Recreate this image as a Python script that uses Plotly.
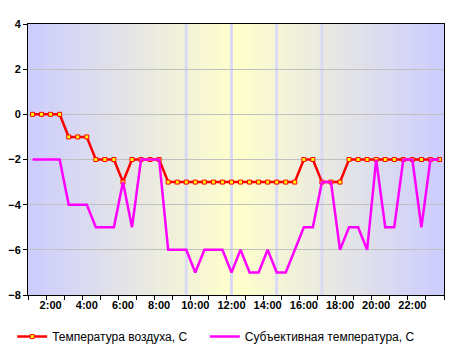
import plotly.graph_objects as go

times = ["1:00", "1:30", "2:00", "2:30", "3:00", "3:30", "4:00", "4:30", "5:00", "5:30",
         "6:00", "6:30", "7:00", "7:30", "8:00", "8:30", "9:00", "9:30", "10:00", "10:30",
         "11:00", "11:30", "12:00", "12:30", "13:00", "13:30", "14:00", "14:30", "15:00", "15:30",
         "16:00", "16:30", "17:00", "17:30", "18:00", "18:30", "19:00", "19:30", "20:00", "20:30",
         "21:00", "21:30", "22:00", "22:30", "23:00", "23:30"]

air_temp = [0, 0, 0, 0, -1, -1, -1, -2, -2, -2,
            -3, -2, -2, -2, -2, -3, -3, -3, -3, -3,
            -3, -3, -3, -3, -3, -3, -3, -3, -3, -3,
            -2, -2, -3, -3, -3, -2, -2, -2, -2, -2,
            -2, -2, -2, -2, -2, -2]

subj_temp = [-2, -2, -2, -2, -4, -4, -4, -5, -5, -5,
             -3, -5, -2, -2, -2, -6, -6, -6, -7, -6,
             -6, -6, -7, -6, -7, -7, -6, -7, -7, -6,
             -5, -5, -3, -3, -6, -5, -5, -6, -2, -5,
             -5, -2, -2, -5, -2, -2]

tick_labels = ["2:00", "4:00", "6:00", "8:00", "10:00", "12:00", "14:00", "16:00", "18:00", "20:00", "22:00"]
marker_times = ["9:30", "12:00", "14:30", "17:00"]

names = ["Температура воздуха, С", "Субъективная температура, С"]


def to_hours(t):
    h, m = t.split(":")
    return int(h) + int(m) / 60.0


x = [to_hours(t) for t in times]
tickvals = [to_hours(t) for t in tick_labels]
x0, x1 = x[0] - 0.25, x[-1] + 0.25

fig = go.Figure()
fig.add_trace(go.Scatter(
    x=x, y=air_temp, name=names[0], mode="lines+markers",
    line=dict(color="#FF0000", width=2.5),
    marker=dict(symbol="square", size=4, color="#FFFF00", line=dict(color="#FF0000", width=1)),
    legend="legend",
))
fig.add_trace(go.Scatter(
    x=x, y=subj_temp, name=names[1], mode="lines",
    line=dict(color="#FF00FF", width=2.5),
    legend="legend2",
))

# background gradient: blue at edges -> yellow at centre
edge = (204, 204, 255)
centre = (255, 255, 204)
n = 116
shapes = []
for i in range(n):
    a = i / n
    b = (i + 1) / n
    mid = (a + b) / 2
    t = 1 - abs(mid - 0.5) * 2
    c = tuple(round(edge[k] + (centre[k] - edge[k]) * t) for k in range(3))
    shapes.append(dict(type="rect", xref="x domain", yref="y domain", x0=a, x1=b + 0.002, y0=0, y1=1,
                       fillcolor="rgb(%d,%d,%d)" % c, line=dict(width=0), layer="below"))
for t in marker_times:
    xv = to_hours(t)
    shapes.append(dict(type="line", xref="x", yref="y domain", x0=xv, x1=xv, y0=0, y1=1,
                       line=dict(color="rgb(218,218,246)", width=3), layer="below"))

legend_font = dict(family="Liberation Sans, Arial", size=12, color="black")

# the page body adds an 8px offset, so the figure is sized to fit the window
fig.update_layout(
    width=456, height=349,
    margin=dict(l=20, r=20, t=16, b=62, autoexpand=False),
    paper_bgcolor="white",
    plot_bgcolor="white",
    shapes=shapes,
    showlegend=True,
    legend=dict(orientation="h", x=-0.038, y=-0.1, xanchor="left", yanchor="top",
                font=legend_font, itemwidth=30, bgcolor="rgba(0,0,0,0)"),
    legend2=dict(orientation="h", x=0.425, y=-0.1, xanchor="left", yanchor="top",
                 font=legend_font, itemwidth=30, bgcolor="rgba(0,0,0,0)"),
    font=dict(family="Liberation Sans, Arial", size=11, color="black"),
)
fig.update_xaxes(
    range=[x0, x1], tickmode="array", tickvals=tickvals, ticktext=tick_labels,
    ticks="", showgrid=False, zeroline=False, automargin=False,
    showline=True, linecolor="black", linewidth=1, mirror=True,
    tickfont=dict(family="Liberation Sans, Arial", size=11, color="black", weight="bold"),
    minor=dict(ticks="outside", ticklen=4, tickcolor="black", tickwidth=1,
               tickmode="linear", tick0=x0, dtick=1, showgrid=False),
)
fig.update_yaxes(
    range=[-8, 4], dtick=2, tick0=0, ticks="outside", ticklen=4, tickcolor="black",
    showgrid=True, gridcolor="#C0C0C0", gridwidth=1, zeroline=False, automargin=False,
    showline=True, linecolor="black", linewidth=1, mirror=True,
    tickfont=dict(family="Liberation Sans, Arial", size=11, color="black", weight="bold"),
)

fig.write_html("out.html")
